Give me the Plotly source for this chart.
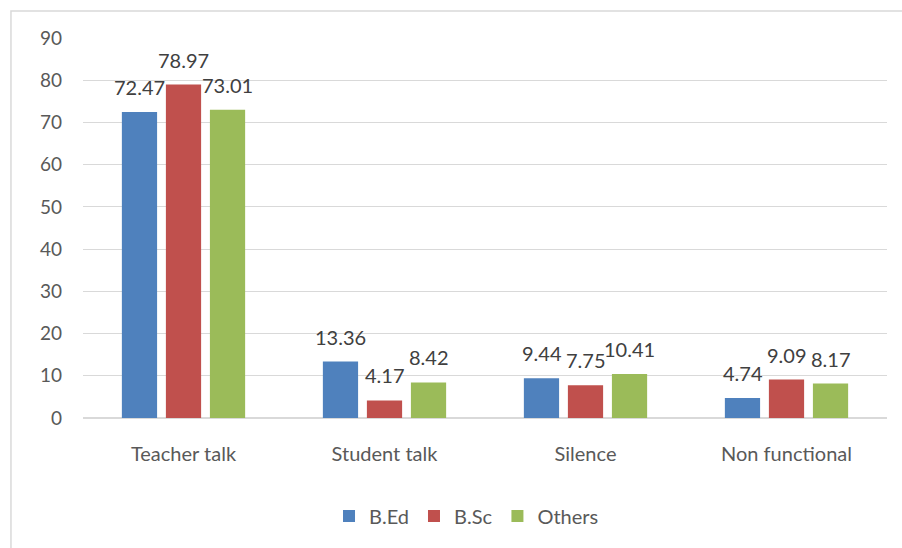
import plotly.graph_objects as go

categories = ["Teacher talk", "Student talk", "Silence", "Non functional"]
bed = [72.47, 13.36, 9.44, 4.74]
bsc = [78.97, 4.17, 7.75, 9.09]
others = [73.01, 8.42, 10.41, 8.17]
series_names = ["B.Ed", "B.Sc", "Others"]
colors = ["#4F81BD", "#C0504D", "#9BBB59"]
y_ticks = [0, 10, 20, 30, 40, 50, 60, 70, 80, 90]

FONT = "Lato"
fig = go.Figure()
annotations = []
offsets = [-44, 0, 44]
for name, vals, col, off in zip(series_names, [bed, bsc, others], colors, offsets):
    fig.add_trace(go.Bar(
        x=categories, y=vals, name=name,
        marker=dict(color=col, line=dict(width=0)),
    ))
    for c, v in zip(categories, vals):
        annotations.append(dict(
            x=c, y=v, xref="x", yref="y", text=f"{v:.2f}", showarrow=False,
            xshift=off, yshift=11, yanchor="bottom", xanchor="center",
            font=dict(family=FONT, size=20, color="#404040"),
        ))

fig.update_layout(
    width=902, height=548,
    margin=dict(l=83, r=15, t=38, b=130),
    paper_bgcolor="white", plot_bgcolor="white",
    barmode="group", bargap=0.343, bargroupgap=0.2,
    font=dict(family=FONT, color="#595959"),
    showlegend=True,
    legend=dict(orientation="h", x=0.477, xanchor="center", y=-0.258, yanchor="middle",
                font=dict(family=FONT, size=20, color="#595959"),
                itemwidth=30, tracegroupgap=0),
    xaxis=dict(showgrid=False, showline=False, ticks="",
               tickfont=dict(family=FONT, size=20, color="#595959"),
               ticklabelstandoff=22),
    yaxis=dict(range=[0, 90], tickvals=y_ticks, showgrid=True, gridcolor="#D9D9D9",
               gridwidth=1, zeroline=True, zerolinecolor="#D9D9D9", zerolinewidth=2,
               showline=False, ticks="",
               tickfont=dict(family=FONT, size=19, color="#595959"),
               ticklabelstandoff=20),
    annotations=annotations,
    shapes=[dict(type="rect", xref="paper", yref="paper",
                 x0=-0.0896, y0=-0.6, x1=1.2, y1=1.071,
                 line=dict(color="#D9D9D9", width=1.5), layer="below")],
)

fig.write_html("out.html")
